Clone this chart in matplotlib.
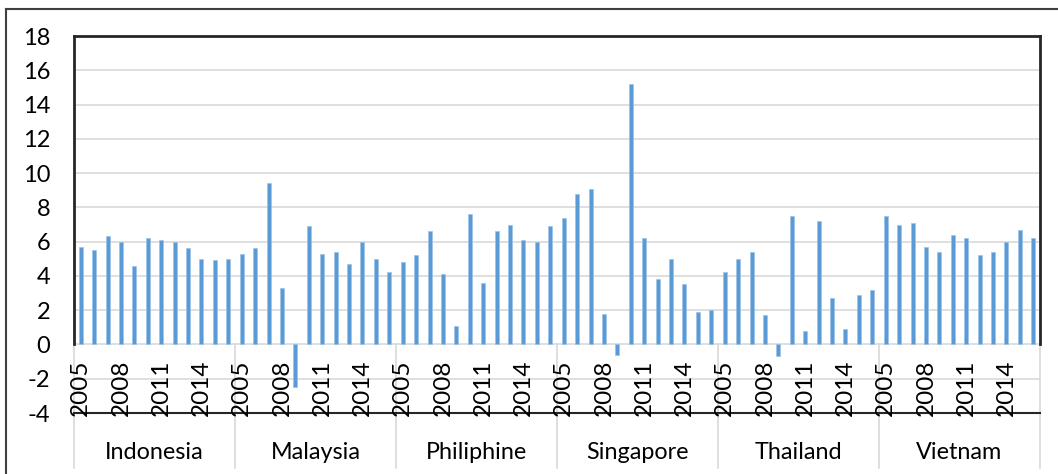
import matplotlib
matplotlib.use("Agg")
import matplotlib.pyplot as plt
from matplotlib.lines import Line2D
import numpy as np

countries = ["Indonesia", "Malaysia", "Philiphine", "Singapore", "Thailand", "Vietnam"]
years = list(range(2005, 2017))
year_labels = ["2005", "2008", "2011", "2014"]

indonesia = [5.7, 5.5, 6.3, 6.0, 4.6, 6.2, 6.1, 6.0, 5.6, 5.0, 4.9, 5.0]
malaysia = [5.3, 5.6, 9.4, 3.3, -2.5, 6.9, 5.3, 5.4, 4.7, 6.0, 5.0, 4.2]
philiphine = [4.8, 5.2, 6.6, 4.1, 1.1, 7.6, 3.6, 6.6, 7.0, 6.1, 6.0, 6.9]
singapore = [7.4, 8.8, 9.1, 1.8, -0.6, 15.2, 6.2, 3.8, 5.0, 3.5, 1.9, 2.0]
thailand = [4.2, 5.0, 5.4, 1.7, -0.7, 7.5, 0.8, 7.2, 2.7, 0.9, 2.9, 3.2]
vietnam = [7.5, 7.0, 7.1, 5.7, 5.4, 6.4, 6.2, 5.2, 5.4, 6.0, 6.7, 6.2]

values = indonesia + malaysia + philiphine + singapore + thailand + vietnam
n_years = len(years)
x = np.arange(len(values))

plt.rcParams['font.family'] = ['Lato', 'DejaVu Sans']

W, H = 1058, 474
fig = plt.figure(figsize=(W / 100, H / 100), dpi=100)
ax = fig.add_axes([74 / W, 1 - 413 / H, (1040 - 74) / W, (413 - 36) / H])

ax.bar(x, values, width=0.3, color="#5B9BD5", edgecolor="#9DC3E6", linewidth=0.5, zorder=3)

ax.set_xlim(-0.5, len(values) - 0.5)
ax.set_ylim(-4, 18)
ax.set_yticks(range(-4, 19, 2))
ax.set_yticklabels([str(v) for v in range(-4, 19, 2)], fontsize=17)
ax.tick_params(axis="y", length=0, pad=17)
ax.set_xticks([])
for s in ax.spines.values():
    s.set_visible(False)

# gridlines
for v in range(-2, 18, 2):
    ax.axhline(v, color="#D9D9D9", linewidth=1.2, zorder=1)

# plot frame (black above zero, black line at -4)
lo, hi = -0.5, len(values) - 0.5
frame_kw = dict(color="#262626", linewidth=2, clip_on=False, zorder=4)
ax.plot([lo, hi], [18, 18], **frame_kw)
ax.plot([lo, lo], [0, 18], **frame_kw)
ax.plot([hi, hi], [0, 18], **frame_kw)
ax.plot([lo, hi], [-4, -4], color="#262626", linewidth=1.5, clip_on=False, zorder=4)

# category separators and labels
for i, c in enumerate(countries):
    start = i * n_years - 0.5
    ax.plot([start, start], [0, -7.2], color="#D9D9D9", linewidth=1.2, clip_on=False, zorder=2)
    ax.text(start + n_years / 2, -6.3, c, ha="center", va="center", fontsize=16.8)
    for k, y in enumerate(years):
        if str(y) in year_labels:
            ax.text(i * n_years + k, -4.15, str(y), rotation=90, ha="center", va="bottom",
                    fontsize=17.5, zorder=5)
ax.plot([hi, hi], [0, -7.2], color="#D9D9D9", linewidth=1.2, clip_on=False, zorder=2)

# outer chart border
fig.add_artist(Line2D([6 / W, 6 / W], [0, 1 - 9 / H], color="#404040", linewidth=1.5))
fig.add_artist(Line2D([6 / W, 1], [1 - 9 / H, 1 - 9 / H], color="#404040", linewidth=1.5))

fig.savefig("out.png", dpi=100)
